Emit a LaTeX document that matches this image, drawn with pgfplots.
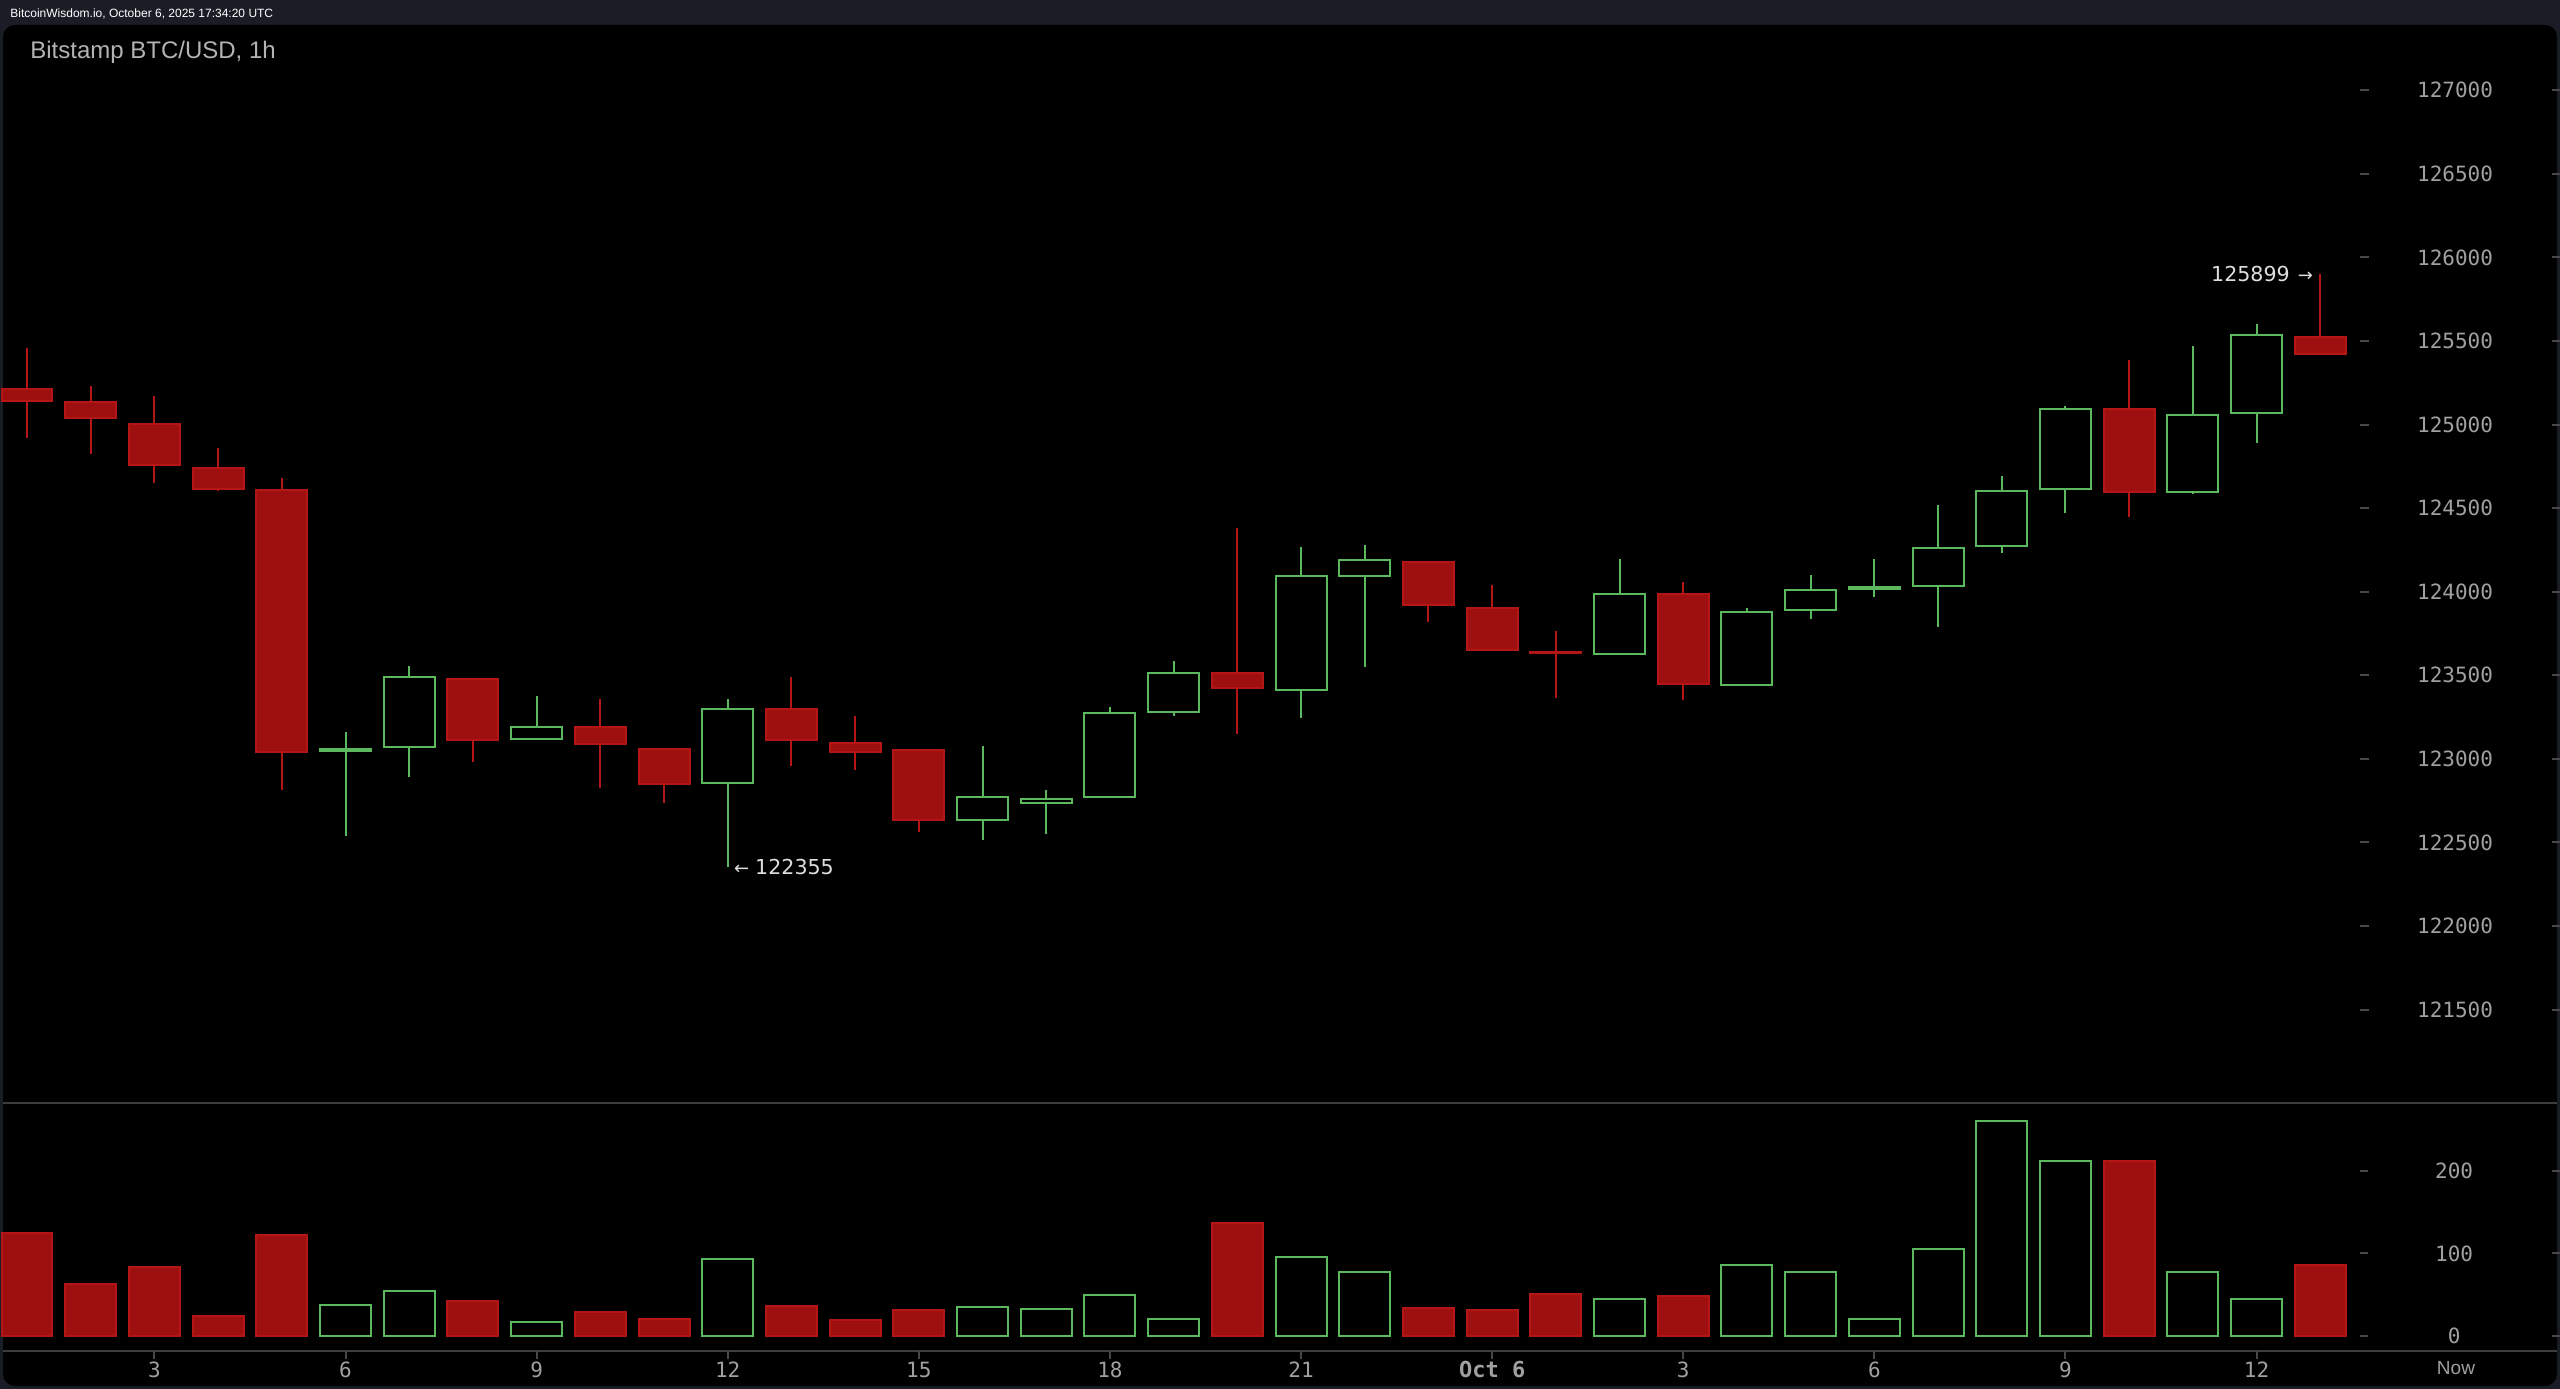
\documentclass[border=0pt]{standalone}
\usepackage{pgfplots}
\pgfplotsset{compat=1.18}
\usepgfplotslibrary{statistics}
\usepackage{fontspec}
\setmainfont{Liberation Sans}
\newfontfamily\dmono{DejaVu Sans Mono}
\newfontfamily\dsans{DejaVu Sans}
\definecolor{outerbg}{RGB}{26,29,38}
\definecolor{candlered}{RGB}{158,16,16}
\definecolor{redline}{RGB}{180,22,22}
\definecolor{candlegreen}{RGB}{92,184,92}
\definecolor{tickgray}{RGB}{72,72,72}
\definecolor{labelgray}{RGB}{160,160,160}
\definecolor{sepgray}{RGB}{62,62,62}
\definecolor{annot}{RGB}{222,222,222}
\pgfplotsset{
  redc/.style={draw=redline, fill=candlered, line width=1bp},
  greenc/.style={draw=candlegreen, fill=black, line width=1bp},
}
\begin{document}
\begin{tikzpicture}
\useasboundingbox (0,0) rectangle (1280bp,694.5bp);
\fill[outerbg] (0,0) rectangle (1280bp,694.5bp);
\fill[black, rounded corners=6bp] (1.5bp,1.5bp) rectangle (1278.5bp,682bp);
\node[anchor=base west, inner sep=0, text=white, font=\fontsize{6bp}{7bp}\selectfont] at (5bp,685.8bp) {BitcoinWisdom.io, October 6, 2025 17:34:20 UTC};
\node[anchor=base west, inner sep=0, text=labelgray!80!white, font=\fontsize{12bp}{14bp}\selectfont] at (15bp,665bp) {Bitstamp BTC/USD, 1h};
\draw[sepgray, line width=1bp] (1.5bp,143bp) -- (1278.5bp,143bp);
\draw[sepgray, line width=1bp] (1.5bp,19bp) -- (1278.5bp,19bp);

% ---------- price panel ----------
\begin{axis}[
  at={(1.5bp,143bp)}, anchor=south west, scale only axis,
  width=1178.5bp, height=539bp,
  xmin=-0.3768, xmax=36.625, ymin=120941, ymax=127391,
  axis line style={draw=none}, xtick=\empty,
  ytick={121500,122000,122500,123000,123500,124000,124500,125000,125500,126000,126500,127000},
  ytick pos=right, yticklabel pos=right,
  tick align=outside, major tick length=4.5bp,
  tick style={draw=tickgray, line width=1bp},
  scaled y ticks=false,
  yticklabel style={anchor=center, xshift=43bp, text=labelgray, font=\dmono\fontsize{10.5bp}{12bp}\selectfont,
    /pgf/number format/.cd, fixed, precision=0, 1000 sep={}, assume math mode=true},
  boxplot/draw direction=y, boxplot/box extend=0.8, boxplot/whisker extend=0,
  clip=false,
]
\addplot[redc, boxplot prepared={draw position=0, lower whisker=124920, lower quartile=125140, median=125140, upper quartile=125215, upper whisker=125460}] coordinates {};
\addplot[redc, boxplot prepared={draw position=1, lower whisker=124825, lower quartile=125040, median=125040, upper quartile=125135, upper whisker=125230}] coordinates {};
\addplot[redc, boxplot prepared={draw position=2, lower whisker=124650, lower quartile=124757, median=124757, upper quartile=125002, upper whisker=125172}] coordinates {};
\addplot[redc, boxplot prepared={draw position=3, lower whisker=124600, lower quartile=124613, median=124613, upper quartile=124741, upper whisker=124862}] coordinates {};
\addplot[redc, boxplot prepared={draw position=4, lower whisker=122815, lower quartile=123044, median=123044, upper quartile=124608, upper whisker=124682}] coordinates {};
\addplot[greenc, boxplot prepared={draw position=5, lower whisker=122541, lower quartile=123045, median=123045, upper quartile=123060, upper whisker=123159}] coordinates {};
\addplot[greenc, boxplot prepared={draw position=6, lower whisker=122889, lower quartile=123070, median=123070, upper quartile=123488, upper whisker=123553}] coordinates {};
\addplot[redc, boxplot prepared={draw position=7, lower whisker=122982, lower quartile=123115, median=123115, upper quartile=123477, upper whisker=123477}] coordinates {};
\addplot[greenc, boxplot prepared={draw position=8, lower whisker=123117, lower quartile=123117, median=123117, upper quartile=123191, upper whisker=123374}] coordinates {};
\addplot[redc, boxplot prepared={draw position=9, lower whisker=122827, lower quartile=123090, median=123090, upper quartile=123191, upper whisker=123360}] coordinates {};
\addplot[redc, boxplot prepared={draw position=10, lower whisker=122733, lower quartile=122852, median=122852, upper quartile=123062, upper whisker=123062}] coordinates {};
\addplot[greenc, boxplot prepared={draw position=11, lower whisker=122355, lower quartile=122854, median=122854, upper quartile=123298, upper whisker=123360}] coordinates {};
\addplot[redc, boxplot prepared={draw position=12, lower whisker=122957, lower quartile=123115, median=123115, upper quartile=123298, upper whisker=123491}] coordinates {};
\addplot[redc, boxplot prepared={draw position=13, lower whisker=122934, lower quartile=123044, median=123044, upper quartile=123097, upper whisker=123257}] coordinates {};
\addplot[redc, boxplot prepared={draw position=14, lower whisker=122563, lower quartile=122636, median=122636, upper quartile=123051, upper whisker=123062}] coordinates {};
\addplot[greenc, boxplot prepared={draw position=15, lower whisker=122517, lower quartile=122636, median=122636, upper quartile=122774, upper whisker=123076}] coordinates {};
\addplot[greenc, boxplot prepared={draw position=16, lower whisker=122552, lower quartile=122735, median=122735, upper quartile=122762, upper whisker=122813}] coordinates {};
\addplot[greenc, boxplot prepared={draw position=17, lower whisker=122769, lower quartile=122769, median=122769, upper quartile=123273, upper whisker=123312}] coordinates {};
\addplot[greenc, boxplot prepared={draw position=18, lower whisker=123255, lower quartile=123282, median=123282, upper quartile=123514, upper whisker=123587}] coordinates {};
\addplot[redc, boxplot prepared={draw position=19, lower whisker=123147, lower quartile=123424, median=123424, upper quartile=123514, upper whisker=124384}] coordinates {};
\addplot[greenc, boxplot prepared={draw position=20, lower whisker=123243, lower quartile=123413, median=123413, upper quartile=124095, upper whisker=124265}] coordinates {};
\addplot[greenc, boxplot prepared={draw position=21, lower whisker=123552, lower quartile=124093, median=124093, upper quartile=124191, upper whisker=124278}] coordinates {};
\addplot[redc, boxplot prepared={draw position=22, lower whisker=123816, lower quartile=123923, median=123923, upper quartile=124180, upper whisker=124180}] coordinates {};
\addplot[redc, boxplot prepared={draw position=23, lower whisker=123649, lower quartile=123649, median=123649, upper quartile=123905, upper whisker=124038}] coordinates {};
\addplot[redc, boxplot prepared={draw position=24, lower whisker=123362, lower quartile=123632, median=123632, upper quartile=123642, upper whisker=123765}] coordinates {};
\addplot[greenc, boxplot prepared={draw position=25, lower whisker=123630, lower quartile=123630, median=123630, upper quartile=123988, upper whisker=124194}] coordinates {};
\addplot[redc, boxplot prepared={draw position=26, lower whisker=123351, lower quartile=123450, median=123450, upper quartile=123988, upper whisker=124061}] coordinates {};
\addplot[greenc, boxplot prepared={draw position=27, lower whisker=123440, lower quartile=123440, median=123440, upper quartile=123880, upper whisker=123905}] coordinates {};
\addplot[greenc, boxplot prepared={draw position=28, lower whisker=123839, lower quartile=123891, median=123891, upper quartile=124011, upper whisker=124098}] coordinates {};
\addplot[greenc, boxplot prepared={draw position=29, lower whisker=123970, lower quartile=124017, median=124017, upper quartile=124027, upper whisker=124194}] coordinates {};
\addplot[greenc, boxplot prepared={draw position=30, lower whisker=123790, lower quartile=124035, median=124035, upper quartile=124262, upper whisker=124516}] coordinates {};
\addplot[greenc, boxplot prepared={draw position=31, lower whisker=124234, lower quartile=124271, median=124271, upper quartile=124605, upper whisker=124694}] coordinates {};
\addplot[greenc, boxplot prepared={draw position=32, lower whisker=124470, lower quartile=124617, median=124617, upper quartile=125095, upper whisker=125109}] coordinates {};
\addplot[redc, boxplot prepared={draw position=33, lower whisker=124447, lower quartile=124594, median=124594, upper quartile=125095, upper whisker=125384}] coordinates {};
\addplot[greenc, boxplot prepared={draw position=34, lower whisker=124582, lower quartile=124594, median=124594, upper quartile=125059, upper whisker=125469}] coordinates {};
\addplot[greenc, boxplot prepared={draw position=35, lower whisker=124887, lower quartile=125070, median=125070, upper quartile=125535, upper whisker=125601}] coordinates {};
\addplot[redc, boxplot prepared={draw position=36, lower whisker=125416, lower quartile=125425, median=125425, upper quartile=125526, upper whisker=125899}] coordinates {};
\node[anchor=west, inner sep=0, xshift=3bp, text=annot, font=\dsans\fontsize{10.3bp}{12bp}\selectfont] at (axis cs:11,122355) {{\fontsize{9bp}{10bp}\selectfont ←}\hspace{3bp}122355};
\node[anchor=east, inner sep=0, xshift=-3.5bp, text=annot, font=\dsans\fontsize{10.3bp}{12bp}\selectfont] at (axis cs:36,125899) {125899\hspace{4bp}{\fontsize{9bp}{10bp}\selectfont →}};
\pgfplotsinvokeforeach{121500,122000,122500,123000,123500,124000,124500,125000,125500,126000,126500,127000}{\draw[tickgray, line width=1bp] (axis cs:39.64,#1) -- (axis cs:39.78,#1);}
\end{axis}

% ---------- volume panel ----------
\begin{axis}[
  at={(1.5bp,19bp)}, anchor=south west, scale only axis,
  width=1178.5bp, height=124bp,
  xmin=-0.3768, xmax=36.625, ymin=-18.2, ymax=282.4,
  axis line style={draw=none},
  xtick={2,5,8,11,14,17,20,23,26,29,32,35},
  xticklabels={3,6,9,12,15,18,21,{\bfseries\fontsize{11bp}{12bp}\selectfont Oct 6},3,6,9,12},
  ytick={0,100,200},
  xtick pos=bottom, ytick pos=right, yticklabel pos=right,
  tick align=outside, major tick length=4bp,
  tick style={draw=tickgray, line width=1bp},
  yticklabel style={anchor=center, xshift=43bp, text=labelgray, font=\dmono\fontsize{10.5bp}{12bp}\selectfont,
    /pgf/number format/assume math mode=true},
  xticklabel style={anchor=center, yshift=-5.3bp, text=labelgray, font=\dmono\fontsize{10.5bp}{12bp}\selectfont,
    /pgf/number format/assume math mode=true},
  clip=false,
]
\addplot[ybar, bar width=0.8, bar shift=0pt, draw=redline, fill=candlered, line width=1bp] coordinates {
(0,125) (1,63) (2,84) (3,24) (4,122) (7,43) (9,29) (10,21) (12,36) (13,19) (14,31)
(19,137) (22,34) (23,31) (24,51) (26,48) (33,212) (36,86)};
\addplot[ybar, bar width=0.8, bar shift=0pt, draw=candlegreen, fill=black, line width=1bp] coordinates {
(5,38) (6,55) (8,17) (11,93) (15,35) (16,33) (17,50) (18,21) (20,96) (21,77)
(25,45) (27,86) (28,77) (29,21) (30,105) (31,260) (32,212) (34,77) (35,45)};
\node[anchor=center, yshift=-8.5bp, text=labelgray, font=\fontsize{9.5bp}{11bp}\selectfont] at (axis cs:38.13,-18.2) {Now};
\pgfplotsinvokeforeach{0,100,200}{\draw[tickgray, line width=1bp] (axis cs:39.64,#1) -- (axis cs:39.78,#1);}
\end{axis}
\end{tikzpicture}
\end{document}
